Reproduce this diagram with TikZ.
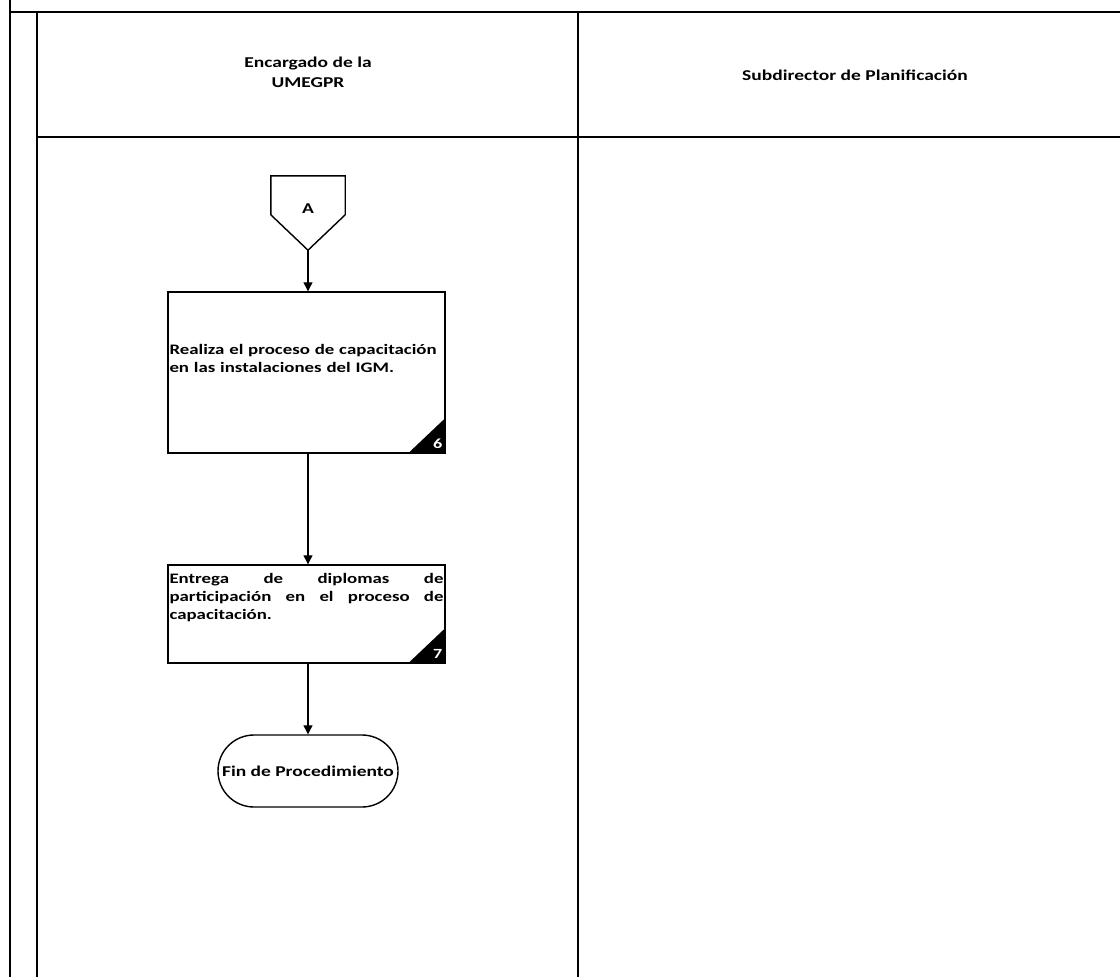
\documentclass[tikz,border=0pt]{standalone}
\usepackage{fontspec}
\setmainfont[FakeStretch=1.3]{Carlito}
\usetikzlibrary{arrows.meta,shapes.misc,calc}
\hyphenpenalty=10000
\tikzset{
  frame/.style={line width=1.6pt},
  thinframe/.style={line width=1.2pt},
  flow/.style={line width=1.2pt,-{Triangle[length=9pt,width=9pt]}},
  head/.style={font=\fontsize{15}{20}\selectfont\bfseries,align=center},
  stepbox/.style={draw,line width=1.4pt,minimum width=277pt,inner sep=0pt},
  stepnum/.style={font=\fontsize{14}{14}\selectfont\bfseries,text=white,inner sep=0pt},
  steptext/.style={font=\fontsize{14.5}{18}\selectfont\bfseries,
    text width=274pt,inner sep=0pt,anchor=north west},
  endbox/.style={draw,line width=1.4pt,rounded rectangle,minimum width=180pt,minimum height=72pt,
    font=\fontsize{15}{18}\selectfont\bfseries,inner sep=0pt},
  offpage/.style={minimum width=74pt,minimum height=74pt,inner sep=0pt,
    font=\fontsize{15}{18}\selectfont\bfseries}
}
\begin{document}
\begin{tikzpicture}[x=1pt,y=-1pt]
\useasboundingbox (0,0) rectangle (1120,977);
\fill[white] (0,0) rectangle (1120,977);

% lane frame
\draw[frame] (10,0) -- (10,977);
\draw[frame] (9,12) -- (1120,12);
\draw[frame] (37,12) -- (37,977);
\draw[line width=2.2pt] (37,137) -- (1120,137);
\draw[thinframe] (578,12) -- (578,977);

% lane headings
\node[head] (h1) at (308,72) {Encargado de la\\UMEGPR};
\node[head] (h2) at (855,75) {Subdirector de Planificación};

% off-page connector A
\node[offpage] (A) at (308,213) {\raisebox{9pt}{A}};
\draw[line width=1.4pt] (A.north west) -- (A.north east) -- ($(A.north east)+(0,39)$)
  -- (A.south) -- ($(A.north west)+(0,39)$) -- cycle;

% step 6
\node[stepbox,minimum height=161pt] (b6) at (306.5,372.5) {};
\fill (b6.south east) -- ++(-38,0) -- ++(38,-36) -- cycle;
\node[stepnum] (n6) at ($(b6.south east)+(-8,-10)$) {6};
\node[steptext,align=left] (t6) at ($(b6.north west)+(2,53)$)
  {Realiza el proceso de capacitación\\en las instalaciones del IGM.};

% step 7
\node[stepbox,minimum height=98pt] (b7) at (306.5,614) {};
\fill (b7.south east) -- ++(-38,0) -- ++(38,-36) -- cycle;
\node[stepnum] (n7) at ($(b7.south east)+(-8,-10)$) {7};
\node[steptext,align=justify] (t7) at ($(b7.north west)+(2,9)$)
  {Entrega de diplomas de\linebreak participación en el proceso de\linebreak capacitación.};

% end of procedure
\node[endbox] (fin) at (308,771) {Fin de Procedimiento};

% connectors
\draw[flow] (A.south) -- (A.south |- b6.north);
\draw[flow] (A.south |- b6.south) -- (A.south |- b7.north);
\draw[flow] (A.south |- b7.south) -- (fin.north);
\end{tikzpicture}
\end{document}
